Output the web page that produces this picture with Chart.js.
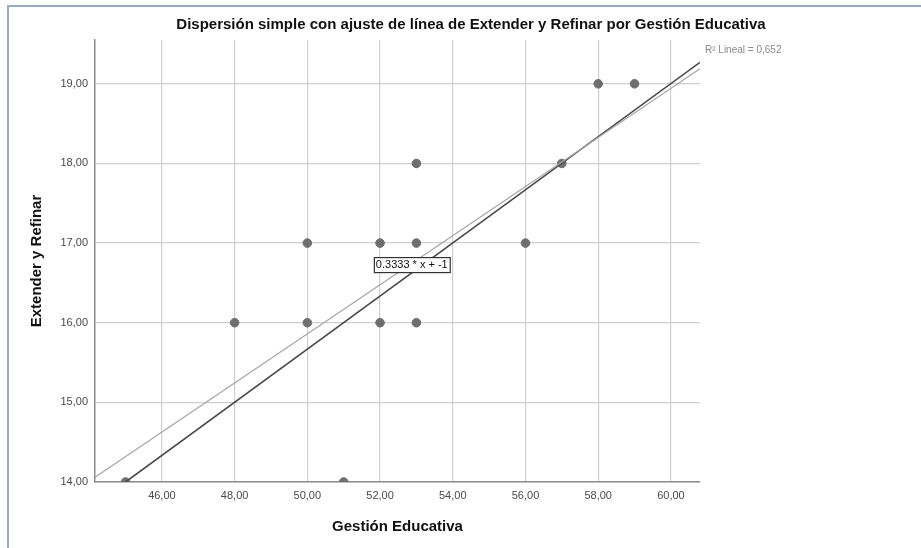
<!DOCTYPE html>
<html>
<head>
<meta charset="utf-8">
<script src="https://cdn.jsdelivr.net/npm/chart.js@4"></script>
<style>
  html, body { margin: 0; padding: 0; background: #fff; }
  #wrap { position: relative; width: 921px; height: 548px; }
  #frame { position: absolute; left: 7px; top: 5px; right: 0; bottom: 0; border-left: 2px solid #9ba8c6; border-top: 2px solid #9ba8c6; pointer-events: none; }
  canvas { position: absolute; left: 0; top: 0; }
</style>
</head>
<body>
<div id="wrap">
  <canvas id="scatter" width="921" height="548"></canvas>
  <div id="frame"></div>
</div>
<script>
// datos
const gestion = [45, 48, 50, 50, 51, 52, 52, 53, 53, 53, 56, 57, 58, 59];
const extender = [14, 16, 17, 16, 14, 17, 16, 18, 17, 16, 17, 18, 19, 19];
const xTicks = [46, 48, 50, 52, 54, 56, 58, 60];
const yTicks = [14, 15, 16, 17, 18, 19];
// extremos de las líneas
const fitX = [44.16, 60.8];
const fitY = [14.06, 19.19];
const refX = [45, 60.8];
const refY = [14, 19.27];

const FONT = "'Liberation Sans', Arial, sans-serif";
const fmt = v => v.toFixed(2).replace('.', ',');

const textos = {
  id: 'textos',
  afterDraw(chart) {
    const ctx = chart.ctx, a = chart.chartArea;
    const sx = chart.scales.x, sy = chart.scales.y;
    ctx.save();
    ctx.fillStyle = '#111';
    ctx.textAlign = 'center';
    ctx.textBaseline = 'middle';
    ctx.font = 'bold 15px ' + FONT;
    ctx.fillText('Dispersión simple con ajuste de línea de Extender y Refinar por Gestión Educativa', 471, 25);
    ctx.fillText('Gestión Educativa', (a.left + a.right) / 2, 527);
    ctx.save();
    ctx.translate(37, (a.top + a.bottom) / 2);
    ctx.rotate(-Math.PI / 2);
    ctx.font = 'bold 15px ' + FONT;
    ctx.fillText('Extender y Refinar', 0, 0);
    ctx.restore();
    // R2
    ctx.textAlign = 'left';
    ctx.font = '10px ' + FONT;
    ctx.fillStyle = '#8a8a8a';
    ctx.fillText('R² Lineal = 0,652', a.right + 5, 50);
    // caja ecuación
    const bx = sx.getPixelForValue(51.83), by = sy.getPixelForValue(16.73);
    ctx.font = '11px ' + FONT;
    const label = '0.3333 * x + -1';
    const w = ctx.measureText(label).width + 4;
    ctx.fillStyle = '#fff';
    ctx.fillRect(bx, by - 7.5, w, 15);
    ctx.strokeStyle = '#333';
    ctx.lineWidth = 1.2;
    ctx.strokeRect(bx + 0.5, by - 7, w, 15);
    ctx.fillStyle = '#111';
    ctx.fillText(label, bx + 2, by + 0.5);
    ctx.restore();
  }
};

new Chart(document.getElementById('scatter'), {
  type: 'scatter',
  data: {
    datasets: [
      { label: 'Lineal', type: 'line', data: fitX.map((x, i) => ({ x: x, y: fitY[i] })),
        borderColor: '#a8a8a8', borderWidth: 1.3, pointRadius: 0, fill: false },
      { label: 'Referencia', type: 'line', data: refX.map((x, i) => ({ x: x, y: refY[i] })),
        borderColor: '#4a4a4a', borderWidth: 1.6, pointRadius: 0, fill: false },
      { label: 'Datos', data: gestion.map((x, i) => ({ x: x, y: extender[i] })),
        backgroundColor: '#6e6e6e', borderColor: '#6e6e6e', pointRadius: 4.3, pointHoverRadius: 4.3 }
    ]
  },
  options: {
    responsive: false,
    animation: false,
    events: [],
    layout: { padding: { top: 40, right: 221, left: 0, bottom: 0 } },
    plugins: { legend: { display: false }, tooltip: { enabled: false } },
    scales: {
      x: {
        type: 'linear', min: 44.16, max: 60.8,
        afterBuildTicks: s => { s.ticks = xTicks.map(v => ({ value: v })); },
        afterFit: s => { s.height = 66; },
        grid: { color: '#cfcfcf', lineWidth: 1.2, drawTicks: false },
        border: { color: '#8c8c8c', width: 1.5 },
        ticks: { padding: 7, color: '#4a4a4a', font: { family: FONT, size: 11 }, callback: v => fmt(v), maxRotation: 0 }
      },
      y: {
        type: 'linear', min: 14, max: 19.55,
        afterBuildTicks: s => { s.ticks = yTicks.map(v => ({ value: v })); },
        afterFit: s => { s.width = 95; },
        grid: { color: '#cfcfcf', lineWidth: 1.2, drawTicks: false },
        border: { color: '#8c8c8c', width: 1.5 },
        ticks: { padding: 7, color: '#4a4a4a', font: { family: FONT, size: 11 }, callback: v => fmt(v) }
      }
    }
  },
  plugins: [textos]
});
</script>
</body>
</html>
